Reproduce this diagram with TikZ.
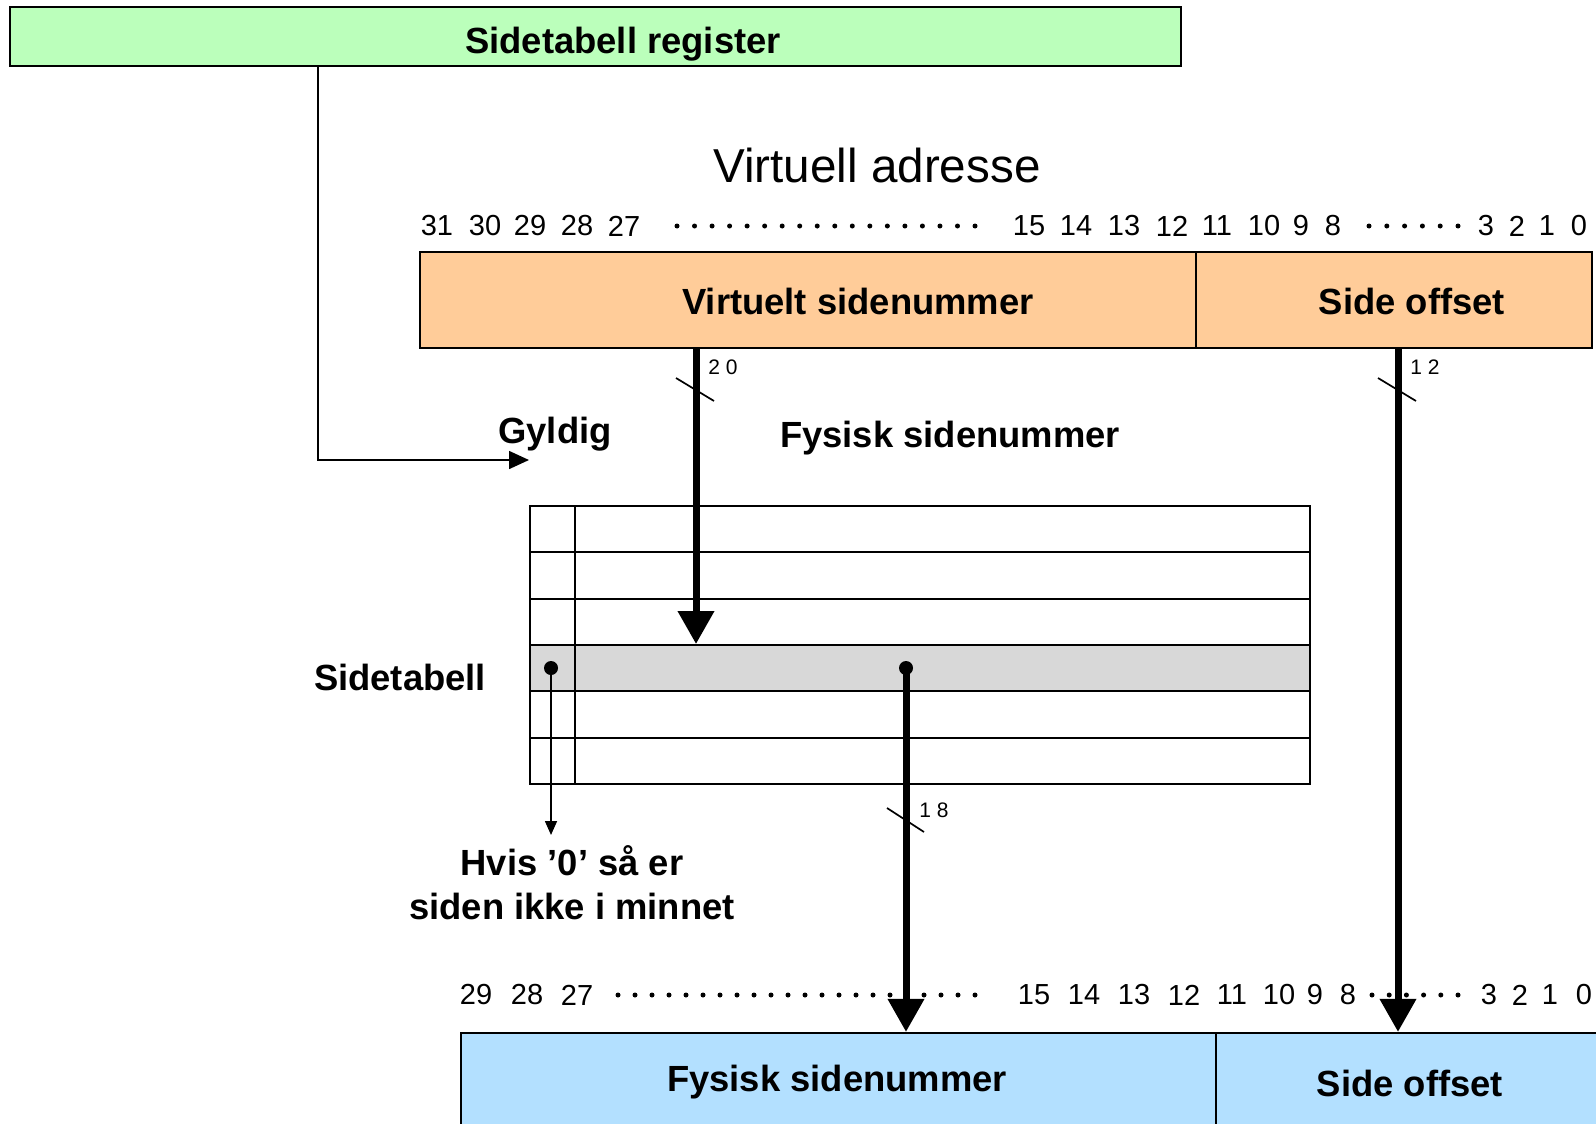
\documentclass[tikz,border=0pt]{standalone}
\usepackage{fontspec}
\setmainfont{Liberation Sans}
\usetikzlibrary{arrows.meta,positioning}
\definecolor{regGreen}{RGB}{187,255,187}
\definecolor{virtOrange}{RGB}{255,204,153}
\definecolor{physBlue}{RGB}{179,224,255}
\definecolor{rowGray}{RGB}{216,216,216}

\begin{document}
\begin{tikzpicture}[
    x=0.5pt, y=-0.5pt,
    lbl/.style={font=\fontsize{18.2}{22}\selectfont\bfseries, inner sep=0pt,
                align=center},
    bitno/.style={font=\fontsize{14.5}{16}\selectfont, inner sep=0pt},
    busno/.style={font=\fontsize{10.5}{12}\selectfont, inner sep=0pt},
    field/.style={draw, line width=1.1pt, inner sep=0pt},
    cell/.style={draw, line width=1pt, inner sep=0pt, minimum height=23.17pt},
    bitdot/.style={circle, fill, inner sep=0pt, minimum size=7pt},
    bus/.style={line width=3.5pt, -{Triangle[width=17.5pt,length=16.5pt]}},
    link/.style={line width=0.8pt, -{Triangle[width=9pt,length=10pt]}},
    validlink/.style={line width=0.8pt, -{Triangle[width=6pt,length=7pt]}},
    tick/.style={line width=0.85pt}
]
\useasboundingbox (0,0) rectangle (1596,1124);
\clip (0,0) rectangle (1596,1124);

\node[field, fill=regGreen, minimum width=585.5pt, minimum height=29.5pt] (reg) at (595.5,36.5) {};
\node[lbl] (regtxt) at (623,44) {Sidetabell register};

\node[font=\fontsize{23.8}{26}\selectfont, inner sep=0pt] (vtitle) at (877,165) {Virtuell adresse};

\foreach \n/\x in {31/437,30/485,29/530,28/577,27/624,15/1029,14/1076,13/1124,12/1172,
                   11/1217,10/1264,9/1301,8/1333,3/1486,2/1517,1/1547,0/1579}
  \node[bitno] (vb\n) at (\x,226) {\n};
\foreach \k in {0,...,17} \fill ({677+17.53*\k},226) circle (2.5);
\foreach \k in {0,...,5} \fill ({1369+17.8*\k},226) circle (2.5);

\node[field, fill=virtOrange, minimum width=388pt, minimum height=48pt] (vpn) at (808,300) {};
\node[field, fill=virtOrange, minimum width=198pt, minimum height=48pt] (voff) at (1394,300) {};
\node[lbl] (vpntxt) at (858,301) {Virtuelt sidenummer};
\node[lbl] (vofftxt) at (1412,301) {Side offset};

\node[lbl] (gyldig) at (555,434) {Gyldig};
\node[lbl] (fystxt) at (950,438) {Fysisk sidenummer};

\foreach \i/\rowfill in {0/white,1/white,2/white,3/rowGray,4/white,5/white} {
  \node[cell, fill=\rowfill, minimum width=22.5pt] (v\i) at (552.5,{529.2+46.33*\i}) {};
  \node[cell, fill=\rowfill, minimum width=367.5pt] (f\i) at (942.5,{529.2+46.33*\i}) {};
}
\node[lbl] (tabtxt) at (400,677) {Sidetabell};
\node[bitdot] (vdot) at (551,668) {};
\node[bitdot] (fdot) at (906,668) {};

\node[lbl] (hvis) at (572,883) {Hvis ’0’ så er\\siden ikke i minnet};

\foreach \n/\x in {29/476,28/527,27/577,15/1034,14/1084,13/1134,12/1184,11/1232,
                   10/1279,9/1315,8/1348,3/1489,2/1520,1/1550,0/1584}
  \node[bitno] (pb\n) at (\x,995) {\n};
\foreach \k in {0,...,21} \fill ({618+17*\k},995) circle (2.5);
\foreach \k in {0,...,5} \fill ({1372+17.2*\k},995) circle (2.5);

\node[field, fill=physBlue, minimum width=377.5pt, minimum height=53.5pt] (pfn) at (838.5,1086.5) {};
\node[field, fill=physBlue, minimum width=197pt, minimum height=53.5pt] (poff) at (1413,1086.5) {};
\node[lbl] (pfntxt) at (837,1082) {Fysisk sidenummer};
\node[lbl] (pofftxt) at (1410,1083) {Side offset};

\coordinate (regtap) at (318,0);
\coordinate (gyltip) at (529,460);
\coordinate (vbus) at (696,0);
\coordinate (obus) at (1398,0);
\coordinate (validtip) at (551,835);

\draw[link] (regtap |- reg.south) |- (gyltip);
\draw[bus] (vbus |- vpn.south) -- (vbus |- f3.north);
\draw[bus] (obus |- voff.south) -- (obus |- poff.north);
\draw[bus] (fdot.center) -- (fdot |- pfn.north);
\draw[validlink] (vdot.center) -- (validtip);

\draw[tick] (676,378) -- (714,401);
\draw[tick] (1378,378) -- (1416,401);
\draw[tick] (887,808) -- (924,832);
\node[busno] (vpnwidth) at (723,367) {2 0};
\node[busno] (offwidth) at (1425,367) {1 2};
\node[busno] (pfnwidth) at (934,810) {1 8};
\end{tikzpicture}
\end{document}
